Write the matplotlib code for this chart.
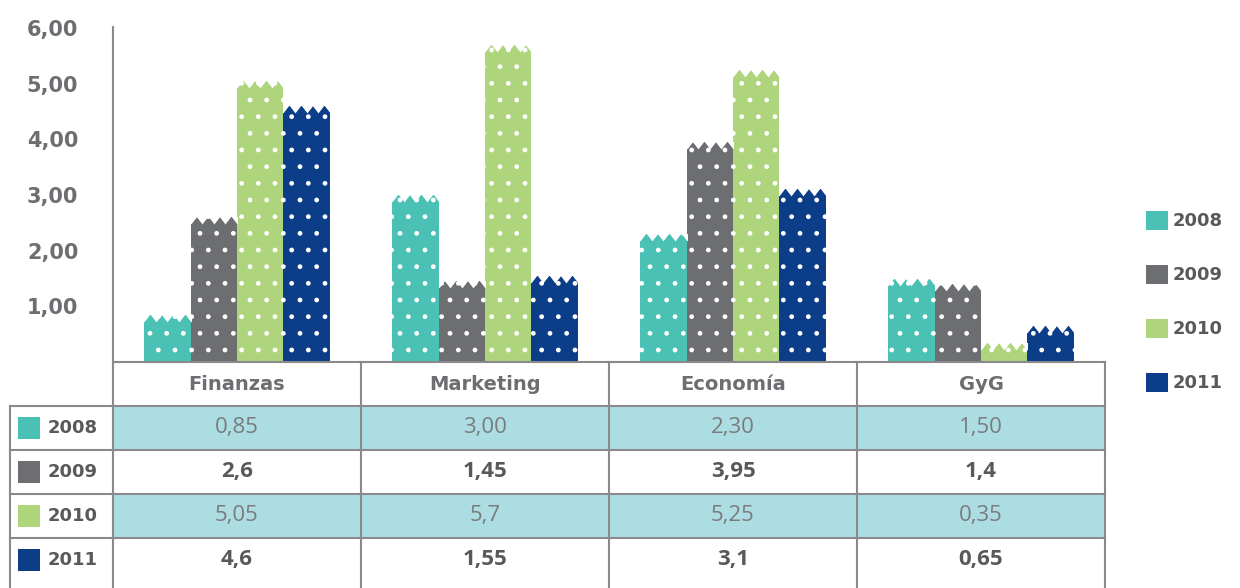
import matplotlib
matplotlib.use("Agg")
import matplotlib.pyplot as plt
from matplotlib.patches import Rectangle, Patch
import numpy as np

categories = ["Finanzas", "Marketing", "Economía", "GyG"]
years = ["2008", "2009", "2010", "2011"]
values_2008 = [0.85, 3.00, 2.30, 1.50]
values_2009 = [2.6, 1.45, 3.95, 1.4]
values_2010 = [5.05, 5.7, 5.25, 0.35]
values_2011 = [4.6, 1.55, 3.1, 0.65]
# how each value is written in the data table
labels_2008 = ["0,85", "3,00", "2,30", "1,50"]
labels_2009 = ["2,6", "1,45", "3,95", "1,4"]
labels_2010 = ["5,05", "5,7", "5,25", "0,35"]
labels_2011 = ["4,6", "1,55", "3,1", "0,65"]
y_ticks = [1, 2, 3, 4, 5, 6]

series = [values_2008, values_2009, values_2010, values_2011]
row_labels = [labels_2008, labels_2009, labels_2010, labels_2011]
colors = ["#4bc0b5", "#6d6e71", "#aed47c", "#0b3d89"]
text_grey = "#6d6e71"
line_grey = "#8a8a8a"
row_fill = "#acdde2"

W, H = 1240, 588
fig = plt.figure(figsize=(W / 100, H / 100), dpi=100)


def px_box(left, top, right, bottom):
    return [left / W, 1 - bottom / H, (right - left) / W, (bottom - top) / H]


# ---- bar chart ----
ax = fig.add_axes(px_box(113, 27, 1105, 362))
x = np.arange(len(categories))
width = 0.187
# flat-topped notch: top edge sits on the point, tip hangs below
notch_marker = [(-1, 0.1), (1, 0.1), (0, -1.2)]

for i, (vals, col) in enumerate(zip(series, colors)):
    pos = x + (i - 1.5) * width
    bars = ax.bar(pos, vals, width, color=col, edgecolor="white", hatch=".",
                  linewidth=0, zorder=2)
    # white notches, clipped to each column, give the top its jagged look
    for p, v, bar in zip(pos, vals, bars):
        offs = p + np.arange(-2, 3) * width / 4
        sc = ax.scatter(offs, np.full(len(offs), v), marker=notch_marker,
                        s=98, color="white", linewidths=0, zorder=3)
        sc.set_clip_path(bar)

ax.set_xlim(-0.5, 3.5)
ax.set_ylim(0, 6.02)
ax.set_xticks([])
ax.set_yticks(y_ticks)
ax.set_yticklabels([f"{t:.2f}".replace(".", ",") for t in y_ticks],
                   fontsize=15, fontweight="bold", color=text_grey,
                   family="DejaVu Sans")
ax.tick_params(axis="y", length=0, pad=25)
for side in ("top", "right", "bottom"):
    ax.spines[side].set_visible(False)
ax.spines["left"].set_color(line_grey)
ax.spines["left"].set_linewidth(1.5)

# ---- data table under the bars ----
tax = fig.add_axes(px_box(10, 362, 1105, 588))
label_col = -0.5 - 103 / 248
n_rows = 226 / 44
tax.set_xlim(label_col, 3.5)
tax.set_ylim(n_rows, 0)
tax.axis("off")

for r in (1, 3):
    tax.add_patch(Rectangle((-0.5, r), 4, 1, facecolor=row_fill,
                            edgecolor="none", zorder=0))

line_kw = dict(color=line_grey, lw=1.5, clip_on=False, zorder=2)
tax.plot([-0.5, 3.5], [0, 0], **line_kw)
for r in range(1, 5):
    tax.plot([label_col, 3.5], [r, r], **line_kw)
tax.plot([label_col, label_col], [1, n_rows], **line_kw)
for c in np.arange(-0.5, 4, 1):
    tax.plot([c, c], [0, n_rows], **line_kw)

for j, cat in enumerate(categories):
    tax.text(j, 0.5, cat, ha="center", va="center", fontsize=14,
             fontweight="bold", color=text_grey, family="DejaVu Sans")

for r, (yr, col, labels) in enumerate(zip(years, colors, row_labels), start=1):
    tax.add_patch(Rectangle((label_col + 8 / 248, r + 0.25), 22 / 248, 0.5,
                            facecolor=col, edgecolor="none", zorder=3))
    tax.text(label_col + 38 / 248, r + 0.5, yr, ha="left", va="center",
             fontsize=13, fontweight="bold", color="#58595b",
             family="DejaVu Sans")
    shaded = r in (1, 3)
    for j, lab in enumerate(labels):
        tax.text(j, r + 0.5, lab, ha="center", va="center", fontsize=16,
                 fontweight="normal" if shaded else "bold",
                 color="#7a7b7d" if shaded else "#58595b", family="Open Sans")

# ---- legend on the right ----
handles = [Patch(facecolor=c, edgecolor="none") for c in colors]
fig.legend(handles, years, loc="upper left",
           bbox_to_anchor=(1146 / W, 1 - 211 / H), frameon=False,
           handlelength=1.2, handleheight=1.2, handletextpad=0.3,
           labelspacing=1.92, borderpad=0, borderaxespad=0,
           prop={"family": "DejaVu Sans", "weight": "bold", "size": 13},
           labelcolor="#58595b")

fig.savefig("out.png", dpi=100)
